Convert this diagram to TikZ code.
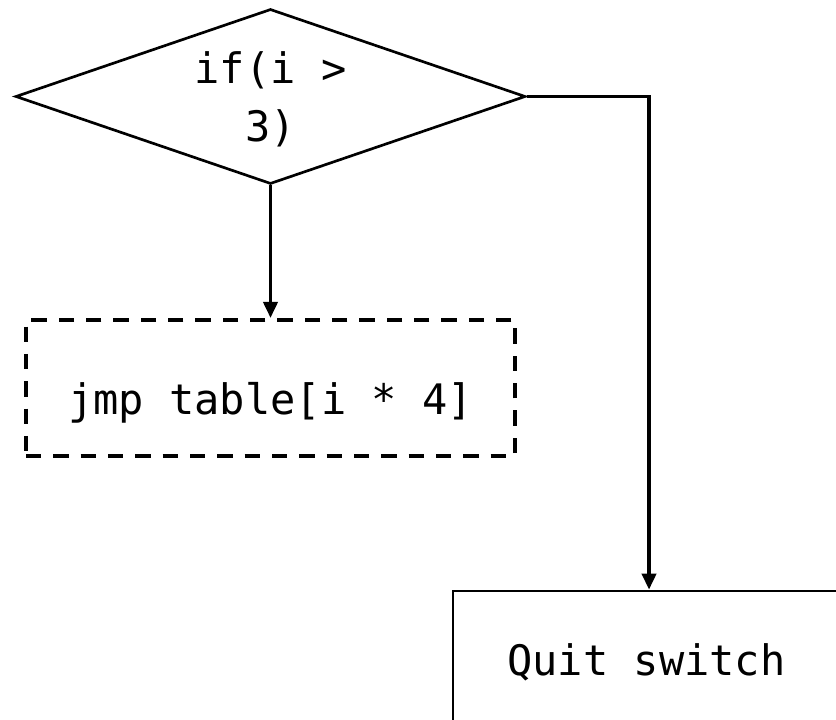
\documentclass[tikz,border=0pt]{standalone}
\usepackage{fontspec}
\setmonofont{DejaVu Sans Mono}
\usetikzlibrary{shapes.geometric,arrows.meta}

\tikzset{
  code/.style={font=\ttfamily\fontsize{31.5}{43}\selectfont, align=center, inner sep=0pt},
  decision/.style={code, diamond, draw, line width=2pt, minimum width=382.5pt, minimum height=131.25pt, aspect=2.91},
  jumpbox/.style={code, rectangle, draw, line width=3pt, dash pattern=on 11.5pt off 9pt,
    minimum width=366.75pt, minimum height=102pt, text height=45pt, text depth=4.5pt},
  exitbox/.style={code, rectangle, draw, line width=2pt, minimum width=290.25pt, minimum height=103.5pt,
    text height=30pt, text depth=7.5pt},
  flow/.style={line width=2.8pt, -{Triangle[length=12pt,width=10.5pt]}}
}

\begin{document}
\begin{tikzpicture}[x=0.75pt,y=-0.75pt]
  \useasboundingbox (0,0) rectangle (836,720);
  \clip (0,0) rectangle (836,720);

  % branch test
  \node[decision] (test) at (270.5,96.5) {\rule{0pt}{28pt}if(i >\\3)};
  % indirect jump through the table
  \node[jumpbox] (jump) at (270.5,388) {jmp table[i * 4]};
  % fall-through exit
  \node[exitbox] (quit) at (646.5,660) {Quit switch};

  \draw[flow] (test.south) -- (test.south |- jump.north);
  \draw[flow] (test.east) -| ([xshift=1.9pt]quit.north);
\end{tikzpicture}
\end{document}
